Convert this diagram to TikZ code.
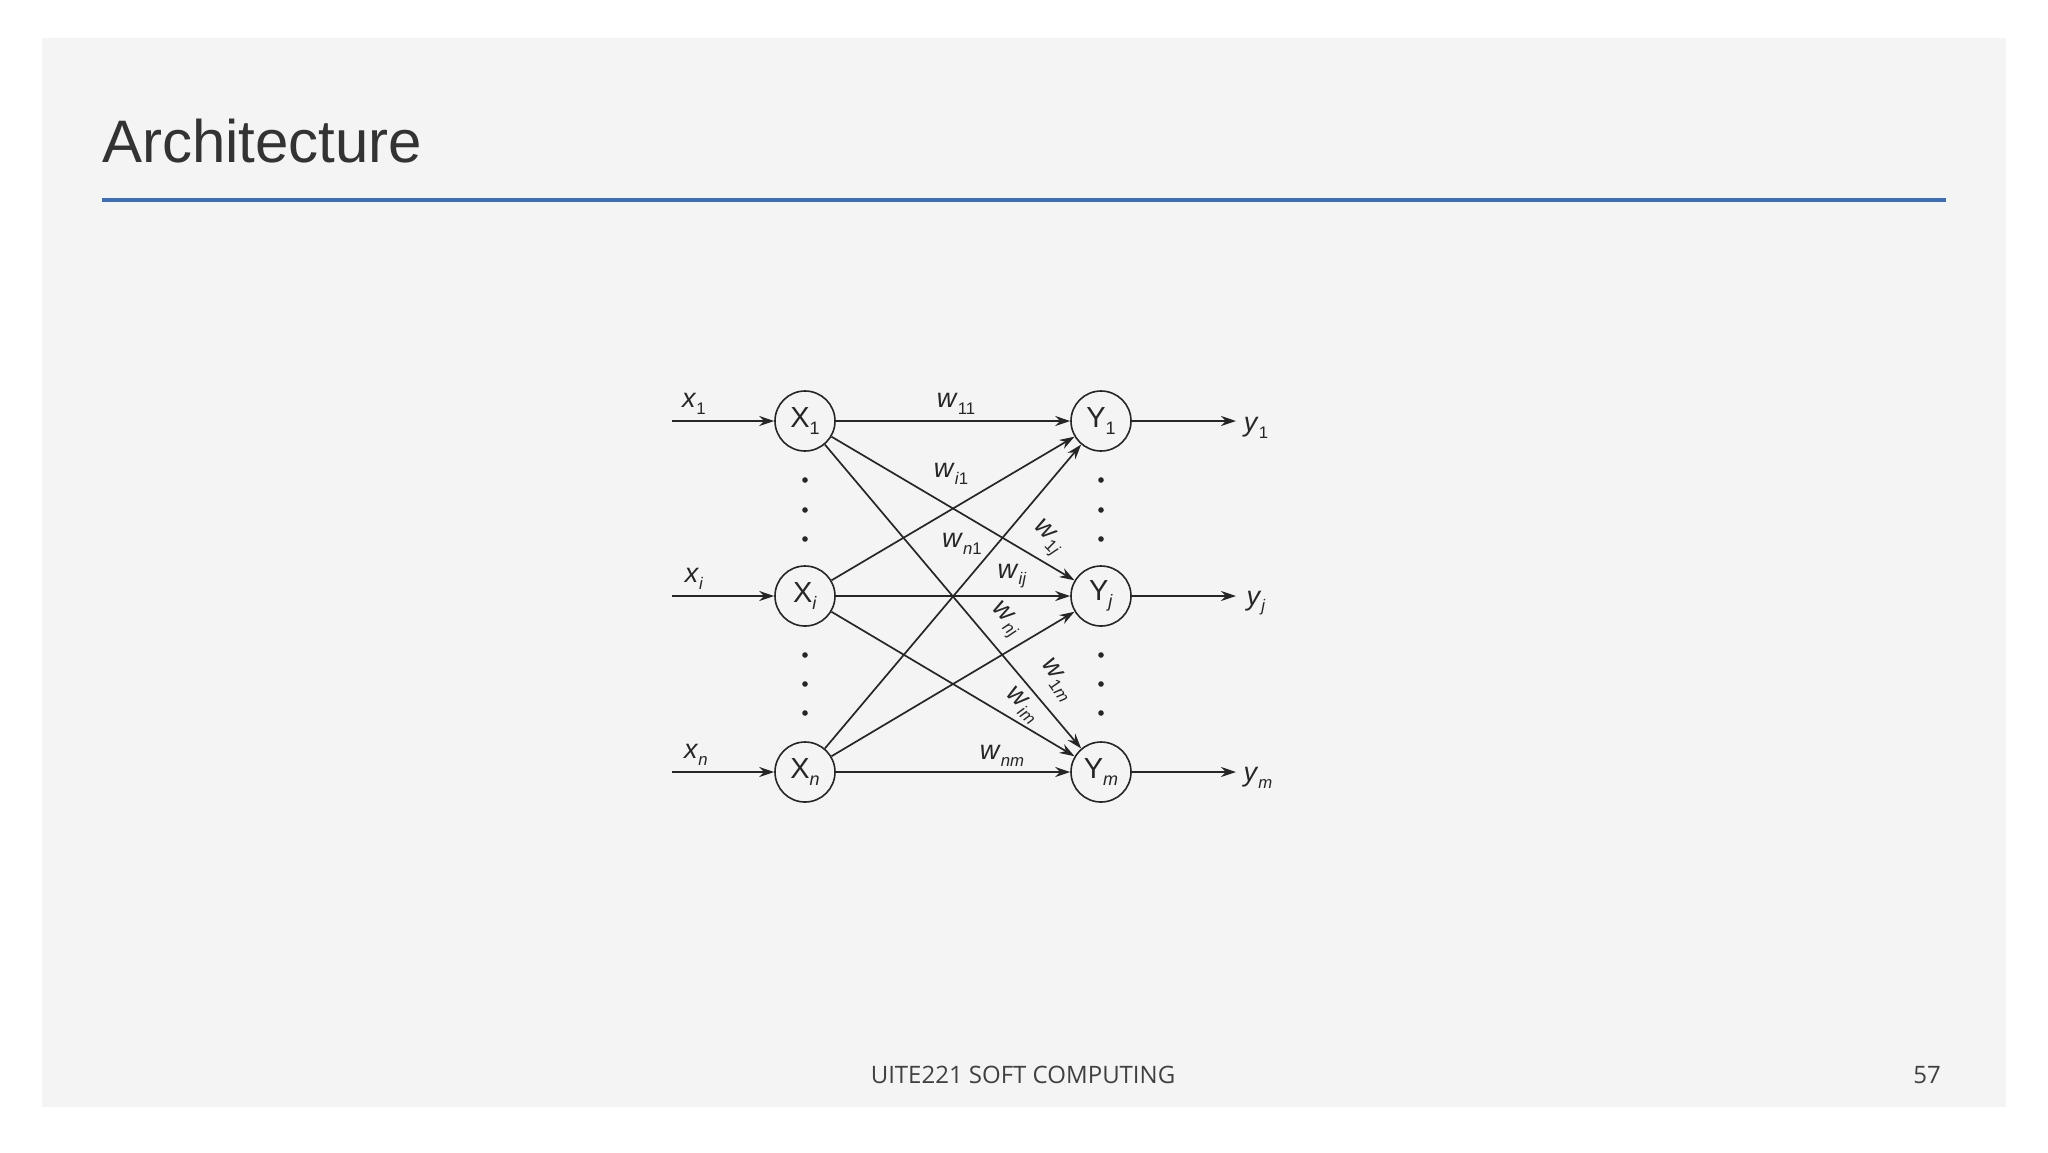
\documentclass[tikz,border=0pt]{standalone}
\usepackage{fontspec}
\setmainfont{Liberation Sans}
\newfontfamily\footfont{Open Sans}
\usetikzlibrary{arrows.meta}

\definecolor{slidegray}{HTML}{F4F4F4}
\definecolor{ruleblue}{HTML}{3B6EB4}
\definecolor{inkgray}{HTML}{262626}

\newcommand{\lsub}[1]{\raisebox{-.45ex}{\scalebox{.62}{#1}}}
\newcommand{\wt}[1]{\textit{w}\lsub{#1}}

\begin{document}
\begin{tikzpicture}
  [x=1pt,y=-1pt,>={Stealth[length=15pt,width=10pt]},
   neuron/.style={circle,draw=inkgray,minimum size=60pt,inner sep=0pt,line width=1.6pt,
     text=inkgray,font=\fontsize{29}{30}\selectfont},
   wlabel/.style={inner sep=0pt,text=inkgray,font=\fontsize{27}{28}\selectfont},
   link/.style={->,draw=inkgray,line width=1.7pt}]
  % slide
  \fill[white] (0,0) rectangle (2048,1152);
  \fill[slidegray] (42,38) rectangle (2006,1107);
  \node[anchor=base west,inner sep=0pt,text=black!80,font=\fontsize{60}{70}\selectfont]
    (title) at (102,162) {Architecture};
  \draw[ruleblue,line width=4pt] (102,200) -- (1946,200);
  \node[anchor=base,inner sep=0pt,text=black!75,font=\footfont\fontsize{24}{28}\selectfont]
    (foot) at (1023,1083) {UITE221 SOFT COMPUTING};
  \node[anchor=base east,inner sep=0pt,text=black!75,font=\footfont\fontsize{24}{28}\selectfont]
    (page) at (1941,1083) {57};

  % units
  \node[neuron] (X1) at (805,421) {X\lsub{1}};
  \node[neuron] (Xi) at (805,596) {X\lsub{\textit{i}}};
  \node[neuron] (Xn) at (805,772) {X\lsub{\textit{n}}};
  \node[neuron] (Y1) at (1101,421) {Y\lsub{1}};
  \node[neuron] (Yj) at (1101,596) {Y\lsub{\textit{j}}};
  \node[neuron] (Ym) at (1101,772) {Y\lsub{\textit{m}}};

  \foreach \y in {480,510,539,655,684,713} {
    \fill[inkgray] (805,\y) circle (2.8);
    \fill[inkgray] (1101,\y) circle (2.8);
  }

  % inputs and outputs
  \coordinate (in1) at (672,421);
  \coordinate (ini) at (672,596);
  \coordinate (inn) at (672,772);
  \coordinate (out1) at (1236,421);
  \coordinate (outj) at (1236,596);
  \coordinate (outm) at (1236,772);
  \foreach \from/\to in {in1/X1,ini/Xi,inn/Xn,Y1/out1,Yj/outj,Ym/outm}
    \draw[link] (\from) -- (\to);

  \node[wlabel] (lx1) at (694,404) {\textit{x}\lsub{1}};
  \node[wlabel] (lxi) at (694,579) {\textit{x}\lsub{\textit{i}}};
  \node[wlabel] (lxn) at (696,755) {\textit{x}\lsub{\textit{n}}};
  \node[wlabel] (ly1) at (1256,428) {\textit{y}\lsub{1}};
  \node[wlabel] (lyj) at (1256,603) {\textit{y}\lsub{\textit{j}}};
  \node[wlabel] (lym) at (1258,778) {\textit{y}\lsub{\textit{m}}};

  % weights
  \foreach \from in {X1,Xi,Xn}
    \foreach \to in {Y1,Yj,Ym}
      \draw[link] (\from) -- (\to);

  \node[wlabel] (w11) at (956,404) {\wt{11}};
  \node[wlabel] (wi1) at (951,474) {\wt{\textit{i}1}};
  \node[wlabel] (wn1) at (962,544) {\wt{\textit{n}1}};
  \node[wlabel,rotate=-45] (w1j) at (1047,538) {\wt{1\textit{j}}};
  \node[wlabel] (wij) at (1012,576) {\wt{\textit{ij}}};
  \node[wlabel,rotate=-45] (wnj) at (1005,620) {\wt{\textit{nj}}};
  \node[wlabel,rotate=-55] (w1m) at (1057,680) {\wt{1\textit{m}}};
  \node[wlabel,rotate=-42] (wim) at (1022,705) {\wt{\textit{im}}};
  \node[wlabel] (wnm) at (1002,756) {\wt{\textit{nm}}};
\end{tikzpicture}
\end{document}
